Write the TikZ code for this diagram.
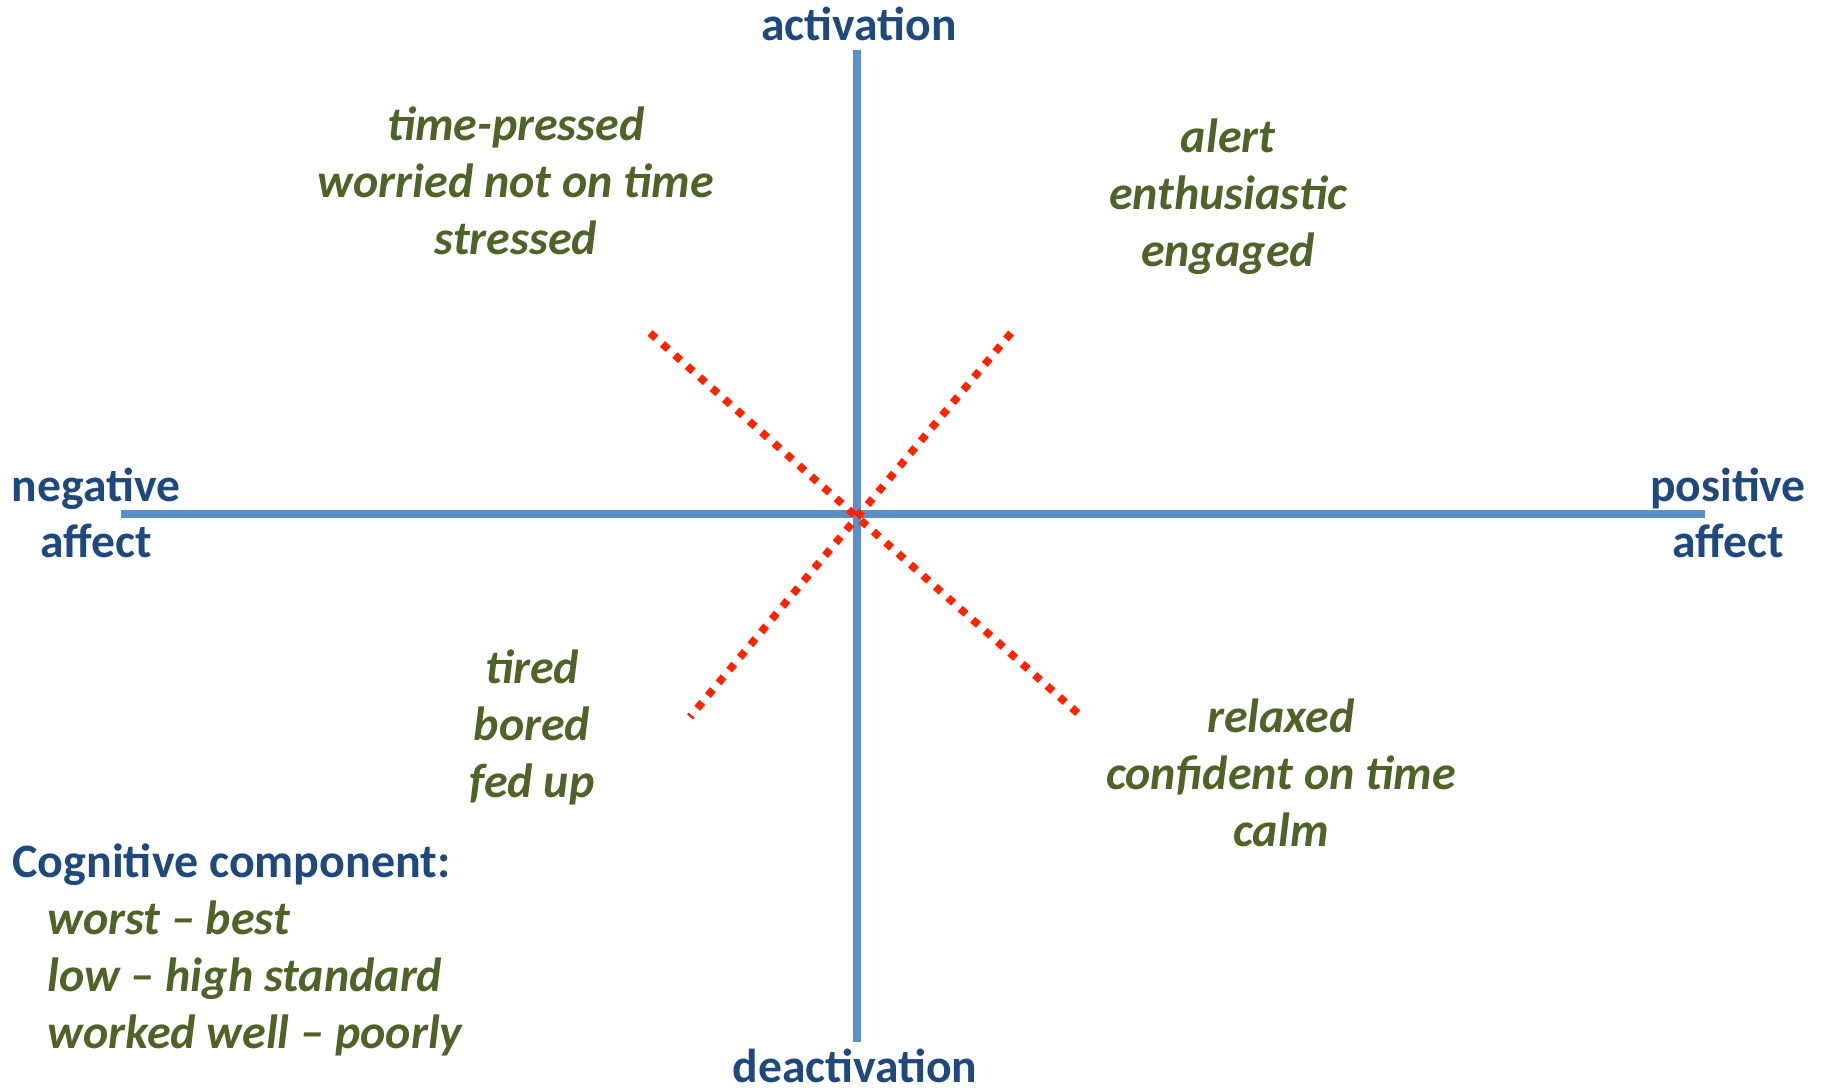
\documentclass[tikz,border=0pt]{standalone}
\usepackage{fontspec}
\setmainfont{Carlito}
\definecolor{axisblue}{HTML}{5B8FC7}
\definecolor{titleblue}{HTML}{1F497D}
\definecolor{olive}{HTML}{4F6228}
\definecolor{dotred}{HTML}{FF2400}
\begin{document}
\begin{tikzpicture}[x=0.5pt,y=-0.5pt,
  axis/.style={draw=axisblue,line width=3.65pt},
  diag/.style={draw=dotred,line width=3.8pt,dash pattern=on 3.9pt off 4.4pt},
  axislabel/.style={text=titleblue,font=\fontsize{23.8}{28}\selectfont\bfseries,align=center,inner sep=0pt},
  mood/.style={text=olive,font=\fontsize{24}{28.5}\selectfont\bfseries\itshape,align=center,inner sep=0pt}]
\useasboundingbox (0,0) rectangle (1825,1087);
% axes
\coordinate (L) at (121,514);
\coordinate (R) at (1705,514);
\coordinate (T) at (857,50);
\coordinate (B) at (857,1042);
\draw[axis] (L) -- (R);
\draw[axis] (T) -- (B);
% diagonals
\coordinate (NW) at (650,333);
\coordinate (SE) at (1082,717);
\coordinate (NE) at (1011,333);
\coordinate (SW) at (690,717);
\draw[diag] (NW) -- (SE);
\draw[diag] (NE) -- (SW);
% axis labels
\node[axislabel] (act) at (859,24) {activation};
\node[axislabel] (deact) at (855,1066) {deactivation};
\node[axislabel] (neg) at (96,513) {negative\\affect};
\node[axislabel] (pos) at (1728,513) {positive\\affect};
% quadrants
\node[mood] (qnw) at (516,181) {time-pressed\\worried not on time\\stressed};
\node[mood] (qne) at (1228,197) {alert\\enthusiastic\\engaged};
\node[mood] (qsw) at (532,727) {tired\\bored\\fed up};
\node[mood] (qse) at (1281,773) {relaxed\\confident on time\\calm};
% cognitive component
\node[inner sep=0pt,anchor=north west,align=left,font=\fontsize{24}{28.5}\selectfont\bfseries] (cog) at (12,843)
 {\textcolor{titleblue}{Cognitive component:}\\
  \hspace*{17.5pt}\textcolor{olive}{\itshape worst – best}\\
  \hspace*{17.5pt}\textcolor{olive}{\itshape low – high standard}\\
  \hspace*{17.5pt}\textcolor{olive}{\itshape worked well – poorly}};
\end{tikzpicture}
\end{document}
